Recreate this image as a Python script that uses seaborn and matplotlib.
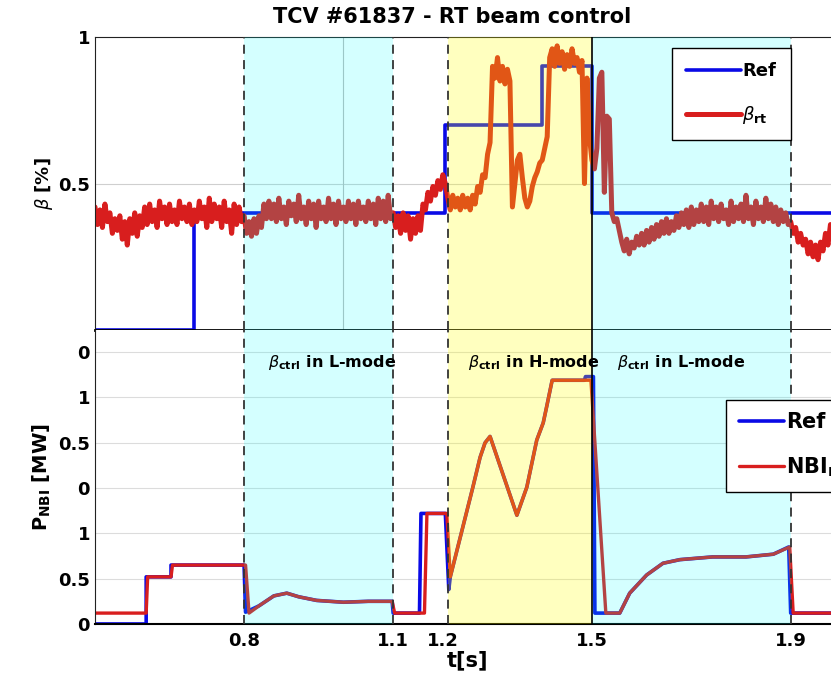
import numpy as np
import matplotlib
matplotlib.use("Agg")
import matplotlib.pyplot as plt
import seaborn as sns

sns.set_style("white")
plt.rcParams['font.family'] = ['DejaVu Sans']
plt.rcParams['mathtext.fontset'] = 'dejavusans'
plt.rcParams['text.color'] = 'black'
plt.rcParams['axes.labelcolor'] = 'black'
plt.rcParams['xtick.color'] = 'black'
plt.rcParams['ytick.color'] = 'black'

# ---- data ----
# beta_rt sampled every 5 ms from 0.50 s to 1.98 s
beta_rt = [
    0.42, 0.36, 0.41, 0.35, 0.43, 0.37, 0.40, 0.33, 0.38, 0.34,
    0.39, 0.31, 0.37, 0.29, 0.38, 0.33, 0.40, 0.32, 0.39, 0.35,
    0.42, 0.36, 0.43, 0.37, 0.41, 0.35, 0.44, 0.38, 0.42, 0.36,
    0.43, 0.37, 0.41, 0.36, 0.44, 0.38, 0.42, 0.37, 0.43, 0.36,
    0.41, 0.37, 0.44, 0.38, 0.42, 0.35, 0.45, 0.37, 0.43, 0.38,
    0.42, 0.35, 0.44, 0.37, 0.41, 0.33, 0.43, 0.36, 0.42, 0.37,
    0.39, 0.33, 0.37, 0.32, 0.38, 0.33, 0.39, 0.35, 0.43, 0.38,
    0.44, 0.38, 0.43, 0.37, 0.45, 0.38, 0.42, 0.36, 0.44, 0.39,
    0.43, 0.37, 0.46, 0.38, 0.42, 0.36, 0.44, 0.38, 0.43, 0.35,
    0.44, 0.38, 0.42, 0.37, 0.45, 0.38, 0.43, 0.36, 0.44, 0.38,
    0.42, 0.37, 0.44, 0.38, 0.43, 0.36, 0.44, 0.38, 0.42, 0.37,
    0.44, 0.38, 0.43, 0.36, 0.45, 0.38, 0.44, 0.37, 0.46, 0.38,
    0.40, 0.35, 0.39, 0.33, 0.40, 0.34, 0.39, 0.31, 0.38, 0.33,
    0.39, 0.34, 0.43, 0.41, 0.47, 0.44, 0.49, 0.46, 0.51, 0.48,
    0.53, 0.50, 0.45, 0.41, 0.46, 0.42, 0.45, 0.41, 0.46, 0.42,
    0.45, 0.41, 0.46, 0.43, 0.49, 0.47, 0.53, 0.52, 0.60, 0.64,
    0.90, 0.86, 0.93, 0.85, 0.90, 0.84, 0.89, 0.85, 0.42, 0.50,
    0.58, 0.60, 0.52, 0.45, 0.42, 0.44, 0.49, 0.52, 0.54, 0.57,
    0.58, 0.62, 0.66, 0.93, 0.96, 0.90, 0.97, 0.91, 0.95, 0.89,
    0.94, 0.90, 0.96, 0.91, 0.93, 0.88, 0.92, 0.50, 0.86, 0.66,
    0.58, 0.55, 0.62, 0.86, 0.88, 0.47, 0.73, 0.72, 0.40, 0.37,
    0.38, 0.34, 0.30, 0.27, 0.31, 0.26, 0.30, 0.28, 0.32, 0.29,
    0.33, 0.29, 0.34, 0.30, 0.35, 0.31, 0.36, 0.32, 0.37, 0.33,
    0.38, 0.33, 0.37, 0.34, 0.39, 0.35, 0.40, 0.36, 0.41, 0.35,
    0.42, 0.36, 0.41, 0.37, 0.43, 0.37, 0.42, 0.36, 0.44, 0.38,
    0.42, 0.37, 0.43, 0.38, 0.41, 0.36, 0.44, 0.37, 0.42, 0.38,
    0.43, 0.37, 0.46, 0.38, 0.42, 0.36, 0.44, 0.38, 0.42, 0.37,
    0.45, 0.38, 0.43, 0.37, 0.42, 0.36, 0.41, 0.37, 0.40, 0.36,
    0.37, 0.33, 0.35, 0.30, 0.33, 0.29, 0.31, 0.26, 0.30, 0.25,
    0.29, 0.24, 0.30, 0.27, 0.33, 0.29, 0.36,
]
t_beta = np.linspace(0.5, 1.98, len(beta_rt))

# beta reference (step changes)
t_beta_ref = [0.5, 0.70, 1.205, 1.40, 1.50, 2.0]
beta_ref = [0.0, 0.4, 0.7, 0.9, 0.4, 0.4]

# NBI power, measured
t_nbi = [0.5, 0.603, 0.606, 0.653, 0.656, 0.803, 0.81, 0.83, 0.86, 0.886,
         0.91, 0.946, 1.0, 1.05, 1.098, 1.103, 1.163, 1.168, 1.208, 1.215,
         1.26, 1.275, 1.285, 1.295, 1.349, 1.369, 1.389, 1.402, 1.409, 1.42,
         1.498, 1.528, 1.556, 1.576, 1.61, 1.643, 1.677, 1.743, 1.81, 1.865,
         1.898, 1.905, 2.0]
p_nbi = [0.12, 0.12, 0.52, 0.52, 0.65, 0.65, 0.12, 0.2, 0.31, 0.34,
         0.30, 0.26, 0.24, 0.25, 0.25, 0.12, 0.12, 1.22, 1.22, 0.52,
         1.50, 1.84, 2.0, 2.07, 1.20, 1.51, 2.03, 2.22, 2.40, 2.69,
         2.69, 0.12, 0.12, 0.34, 0.54, 0.67, 0.71, 0.74, 0.74, 0.77,
         0.85, 0.12, 0.12]

# NBI power, reference
t_nbi_ref = [0.5, 0.603, 0.603, 0.653, 0.653, 0.80, 0.803, 0.83, 0.86, 0.886,
             0.91, 0.946, 1.0, 1.05, 1.098, 1.10, 1.153, 1.156, 1.205, 1.212,
             1.215, 1.26, 1.275, 1.285, 1.295, 1.349, 1.369, 1.389, 1.402, 1.409,
             1.42, 1.485, 1.487, 1.503, 1.506, 1.556, 1.576, 1.61, 1.643, 1.677,
             1.743, 1.81, 1.865, 1.896, 1.900, 2.0]
p_nbi_ref = [0.0, 0.0, 0.52, 0.52, 0.65, 0.65, 0.13, 0.2, 0.31, 0.34,
             0.30, 0.26, 0.24, 0.25, 0.25, 0.12, 0.12, 1.22, 1.22, 0.38,
             0.52, 1.50, 1.84, 2.0, 2.07, 1.20, 1.51, 2.03, 2.22, 2.40,
             2.69, 2.69, 2.73, 2.73, 0.12, 0.12, 0.34, 0.54, 0.67, 0.71,
             0.74, 0.74, 0.77, 0.85, 0.12, 0.12]

# control phases
lmode_spans = [(0.8, 1.1), (1.5, 1.9)]
hmode_span = (1.21, 1.5)
dashed_t = [0.8, 1.1, 1.21, 1.9]
solid_t = [1.5]
xticks = [0.8, 1.1, 1.2, 1.5, 1.9]
p_ticks = [0, 0.5, 1, 1.5, 2, 2.5, 3]
p_ticklabels = ['0', '0.5', '1', '0', '0.5', '1', '0']
phase_labels = [(0.848, r'$\beta_{\mathbf{ctrl}}$ in L-mode'),
                (1.25, r'$\beta_{\mathbf{ctrl}}$ in H-mode'),
                (1.55, r'$\beta_{\mathbf{ctrl}}$ in L-mode')]

blue = '#0a0ae6'
red = '#d81e1e'

fig = plt.figure(figsize=(8.31, 6.85), dpi=100)
ax1 = fig.add_axes([0.1143, 0.5182, 0.897, 0.4277])
ax2 = fig.add_axes([0.1143, 0.0891, 0.897, 0.4292])

for ax in (ax1, ax2):
    ax.set_xlim(0.5, 2.0)
    for a, b in lmode_spans:
        ax.axvspan(a, b, color=(0, 1, 1), alpha=0.17, lw=0, zorder=3)
    ax.axvspan(*hmode_span, color=(1, 1, 0), alpha=0.25, lw=0, zorder=3)
    for t in dashed_t:
        ax.axvline(t, color='#333333', lw=1.3, ls=(0, (5, 3.5)), zorder=4)
    for t in solid_t:
        ax.axvline(t, color='black', lw=1.2, zorder=4)
    ax.tick_params(direction='in', length=4, labelsize=13, width=1)
    for s in ax.spines.values():
        s.set_color('#222222')

# ---- top panel: beta ----
ax1.axhline(0.5, color='#cfcfcf', lw=0.8, zorder=1)
ax1.axvline(1.0, color='#bcbcbc', lw=0.8, zorder=1)
sns.lineplot(x=t_beta_ref, y=beta_ref, ax=ax1, color=blue, lw=2.6,
             drawstyle='steps-post', estimator=None, sort=False, label='Ref', zorder=2)
sns.lineplot(x=t_beta, y=beta_rt, ax=ax1, color=red, lw=3.6,
             estimator=None, sort=False, label=r'$\beta_{\mathbf{rt}}$', zorder=2)
ax1.set_ylim(0, 1)
ax1.set_yticks([0.5, 1])
ax1.set_yticklabels(['0.5', '1'], fontweight='bold')
ax1.set_xticks(xticks)
ax1.set_xticklabels([])
ax1.spines['bottom'].set_linewidth(2)
ax1.spines['bottom'].set_color('black')
ax1.set_ylabel(r'$\beta$ [%]', fontsize=13, fontweight='bold', labelpad=2)
leg1 = ax1.legend(loc='upper left', bbox_to_anchor=(672 / 831, 1 - 48 / 685),
                  bbox_transform=fig.transFigure, fancybox=False, framealpha=1,
                  edgecolor='black', prop={'weight': 'bold', 'size': 13},
                  handlelength=3.0, handletextpad=0.1, labelspacing=1.3,
                  borderpad=0.8, borderaxespad=0)
leg1.set_zorder(10)
leg1.get_frame().set_linewidth(1.0)

# ---- bottom panel: NBI power ----
for v in p_ticks:
    ax2.axhline(v, color='#dcdcdc', lw=0.8, zorder=1)
sns.lineplot(x=t_nbi_ref, y=p_nbi_ref, ax=ax2, color=blue, lw=2.6,
             estimator=None, sort=False, label='Ref', zorder=2)
sns.lineplot(x=t_nbi, y=p_nbi, ax=ax2, color=red, lw=2.4,
             estimator=None, sort=False, label=r'$\mathbf{NBI}_{\mathbf{rt}}$', zorder=2)
ax2.set_ylim(0, 3.245)
ax2.set_yticks(p_ticks)
ax2.set_yticklabels(p_ticklabels, fontweight='bold')
ax2.set_xticks(xticks)
ax2.set_xticklabels([str(x) for x in xticks], fontweight='bold')
ax2.tick_params(axis='x', pad=6)
ax2.spines['top'].set_visible(False)
ax2.spines['bottom'].set_color('black')
ax2.spines['bottom'].set_linewidth(1.5)
ax2.set_ylabel(r'$\mathbf{P_{NBI}}$ [MW]', fontsize=14, fontweight='bold', labelpad=4)
ax2.set_xlabel('t[s]', fontsize=15, fontweight='bold', labelpad=0)
for x0, txt in phase_labels:
    ax2.text(x0, 2.89, txt, fontsize=11.5, fontweight='bold', va='center',
             ha='left', zorder=6)
leg2 = ax2.legend(loc='upper left', bbox_to_anchor=(726 / 831, 1 - 400 / 685),
                  bbox_transform=fig.transFigure, fancybox=False, framealpha=1,
                  edgecolor='black', prop={'weight': 'bold', 'size': 15},
                  handlelength=2.2, handletextpad=0.1, labelspacing=1.1,
                  borderpad=0.6, borderaxespad=0)
leg2.set_zorder(10)
leg2.get_frame().set_linewidth(1.0)

fig.text(452 / 831, 1 - 17 / 685, 'TCV #61837 - RT beam control', ha='center',
         va='center', fontsize=15, fontweight='bold')

fig.savefig('out.png', dpi=100)
